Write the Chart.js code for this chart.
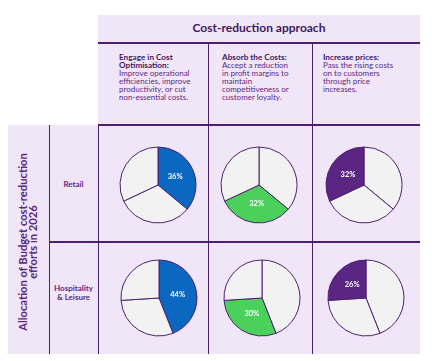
<!DOCTYPE html>
<html>
<head>
<meta charset="utf-8">
<script src="https://cdn.jsdelivr.net/npm/chart.js@4"></script>
<style>
  body { margin: 0; width: 432px; height: 361px; background: #fff; position: relative; overflow: hidden; font-family: Lato, sans-serif; }
  .bg { position: absolute; background: #f1e6f8; }
  .ln { position: absolute; background: #4b2070; }
  .title { position: absolute; left: 98px; top: 20px; width: 322px; text-align: center; font-weight: bold; font-size: 12px; color: #3d1a5e; }
  .desc { position: absolute; top: 53px; font-size: 8px; line-height: 8.1px; color: #5a2a82; white-space: nowrap; }
  .desc b { color: #3d1a5e; font-size: 8.2px; }
  .rowlbl { position: absolute; left: 49px; width: 49px; text-align: center; font-weight: bold; font-size: 8px; line-height: 8.5px; color: #5a2a82; }
  .vert { position: absolute; left: 28px; top: 242px; transform: translate(-50%, -50%) rotate(-90deg); white-space: nowrap; text-align: center; font-weight: bold; font-size: 11.2px; line-height: 10px; color: #5a2a82; }
  canvas { position: absolute; }
</style>
</head>
<body>
<div class="bg" style="left:98px;top:15px;width:322px;height:110px"></div>
<div class="bg" style="left:8px;top:125px;width:412px;height:229px"></div>

<div class="ln" style="left:98px;top:42px;width:322px;height:1.5px"></div>
<div class="ln" style="left:98px;top:124px;width:322px;height:1.5px"></div>
<div class="ln" style="left:49px;top:241px;width:371px;height:1.5px"></div>
<div class="ln" style="left:48.5px;top:125px;width:1.5px;height:229px"></div>
<div class="ln" style="left:97.5px;top:125px;width:1.5px;height:229px"></div>
<div class="ln" style="left:207.5px;top:43px;width:1.5px;height:311px"></div>
<div class="ln" style="left:311.5px;top:43px;width:1.5px;height:311px"></div>

<div class="title">Cost-reduction approach</div>
<div class="desc" style="left:119px"><b>Engage in Cost<br>Optimisation:</b><br>Improve operational<br>efficiencies, improve<br>productivity, or cut<br>non-essential costs.</div>
<div class="desc" style="left:222px"><b>Absorb the Costs:</b><br>Accept a reduction<br>in profit margins to<br>maintain<br>competitiveness or<br>customer loyalty.</div>
<div class="desc" style="left:323px"><b>Increase prices:</b><br>Pass the rising costs<br>on to customers<br>through price<br>increases.</div>

<div class="rowlbl" style="top:180px">Retail</div>
<div class="rowlbl" style="top:284px">Hospitality<br>&amp; Leisure</div>
<div class="vert">Allocation of Budget cost-reduction<br>efforts in 2026</div>

<canvas id="p0" width="80" height="80" style="left:118px;top:145px"></canvas>
<canvas id="p1" width="80" height="80" style="left:219px;top:145px"></canvas>
<canvas id="p2" width="80" height="80" style="left:324px;top:145px"></canvas>
<canvas id="p3" width="80" height="80" style="left:119px;top:258px"></canvas>
<canvas id="p4" width="80" height="80" style="left:222px;top:258px"></canvas>
<canvas id="p5" width="80" height="80" style="left:326px;top:258px"></canvas>

<script>
// cost-reduction approaches (one column each)
const approaches = ['Engage in Cost Optimisation', 'Absorb the Costs', 'Increase prices'];
// sectors (one row each)
const sectors = ['Retail', 'Hospitality & Leisure'];
// share of budget per approach, in %
const retailShare = [36, 32, 32];
const hospitalityShare = [44, 30, 26];
// colour of the highlighted slice in each column
const highlightColors = ['#0b67bf', '#4bd15b', '#5b2683'];
const otherColor = '#f2f2f2';

// writes the percentage on the highlighted slice only
const sliceLabel = {
    id: 'sliceLabel',
    afterDatasetsDraw(chart) {
        const ctx = chart.ctx;
        const idx = chart.options.plugins.sliceLabel.index;
        const arc = chart.getDatasetMeta(0).data[idx];
        const pos = arc.tooltipPosition();
        ctx.save();
        ctx.fillStyle = '#ffffff';
        ctx.font = 'bold 7.5px Lato, sans-serif';
        ctx.textAlign = 'center';
        ctx.textBaseline = 'middle';
        ctx.fillText(chart.data.datasets[0].data[idx] + '%', pos.x, pos.y);
        ctx.restore();
    }
};

const rows = [retailShare, hospitalityShare];
let n = 0;
for (let r = 0; r < rows.length; r++) {
    for (let c = 0; c < approaches.length; c++) {
        let colors = approaches.map((_, i) => i === c ? highlightColors[c] : otherColor);
        new Chart(document.getElementById('p' + n), {
            type: 'pie',
            data: {
                labels: approaches,
                datasets: [{
                    data: rows[r],
                    backgroundColor: colors,
                    borderColor: '#4b2070',
                    borderWidth: 1
                }]
            },
            options: {
                responsive: false,
                animation: false,
                layout: { padding: 1.5 },
                plugins: {
                    legend: { display: false },
                    tooltip: { enabled: false },
                    sliceLabel: { index: c }
                }
            },
            plugins: [sliceLabel]
        });
        n++;
    }
}
</script>
</body>
</html>
